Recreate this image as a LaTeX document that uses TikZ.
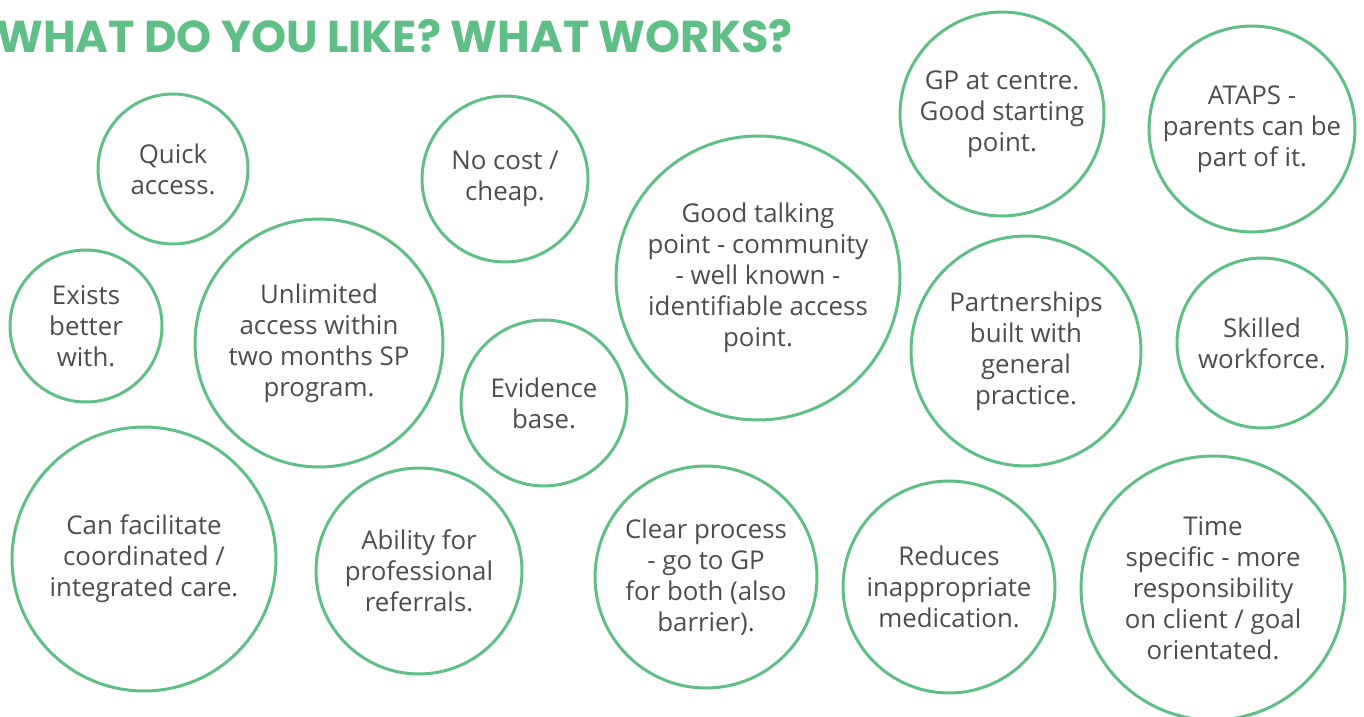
\documentclass[tikz,border=0pt]{standalone}
\usepackage{fontspec}
\setmainfont{Open Sans}
\newfontfamily\titlefont{Poppins}
\definecolor{likegreen}{RGB}{96,191,135}
\definecolor{inkgrey}{RGB}{77,77,77}
\begin{document}
\begin{tikzpicture}[x=0.02cm, y=-0.02cm,
  bubble/.style={circle, draw=likegreen, line width=1.7pt, text=inkgrey, align=center, inner sep=0pt, font=\fontsize{14.7}{17.6}\selectfont},
  rad/.style={minimum size=#1*0.4mm}]
\useasboundingbox (0,0) rectangle (1364,716);
\node[anchor=base west, text=likegreen, font=\titlefont\bfseries\fontsize{25.4}{25.4}\selectfont] (title) at (-10,53) {WHAT DO YOU LIKE? WHAT WORKS?};
\node[bubble, rad=75] (quick) at (173,169) {Quick\\access.};
\node[bubble, rad=83] (nocost) at (505,179) {No cost /\\cheap.};
\node[bubble, rad=142] (talking) at (758,278) {Good talking\\point - community\\- well known -\\identifiable access\\point.};
\node[bubble, rad=102] (gp) at (1002,114) {GP at centre.\\Good starting\\point.};
\node[bubble, rad=103] (ataps) at (1252,129) {ATAPS -\\parents can be\\part of it.};
\node[bubble, rad=76] (exists) at (86,326) {Exists\\better\\with.};
\node[bubble, rad=124] (unlimited) at (319,343) {Unlimited\\access within\\two months SP\\program.};
\node[bubble, rad=83] (evidence) at (544,403) {Evidence\\base.};
\node[bubble, rad=115] (partner) at (1026,351) {Partnerships\\built with\\general\\practice.};
\node[bubble, rad=85] (skilled) at (1262,343) {Skilled\\workforce.};
\node[bubble, rad=132] (facilitate) at (144,559) {Can facilitate\\coordinated /\\integrated care.};
\node[bubble, rad=103] (ability) at (419,571) {Ability for\\professional\\referrals.};
\node[bubble, rad=111] (clear) at (706,577) {Clear process\\- go to GP\\for both (also\\barrier).};
\node[bubble, rad=106] (reduces) at (949,587) {Reduces\\inappropriate\\medication.};
\node[bubble, rad=132] (timespec) at (1213,588) {Time\\specific - more\\responsibility\\on client / goal\\orientated.};
\end{tikzpicture}
\end{document}
